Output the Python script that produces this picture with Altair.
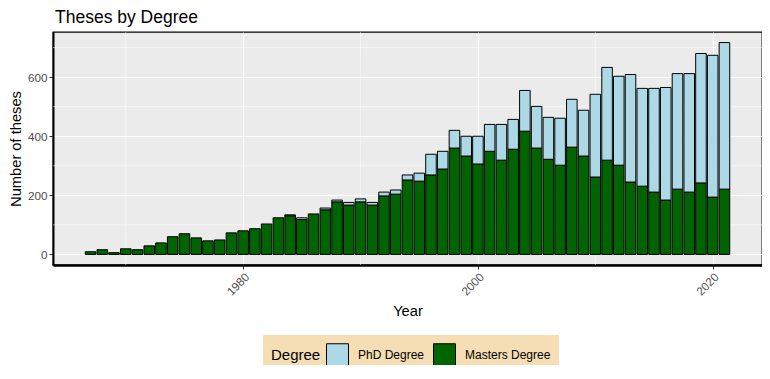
import altair as alt
import pandas as pd

years = list(range(1967, 2022))
masters = [9, 16, 6, 19, 16, 29, 39, 60, 70, 56, 46, 49, 73, 80, 87, 103, 124, 131, 118, 137, 151,
           178, 167, 178, 167, 198, 204, 252, 248, 269, 289, 360, 333, 306, 349, 319, 356, 417, 360,
           322, 302, 363, 333, 262, 319, 302, 245, 231, 211, 184, 221, 211, 242, 194, 221]
phd = [0, 0, 0, 0, 0, 0, 0, 0, 0, 0, 0, 0, 0, 0, 0, 0, 0, 3, 6, 0, 6,
       6, 9, 10, 9, 13, 14, 17, 27, 70, 60, 60, 67, 94, 91, 121, 101, 138, 141,
       142, 159, 162, 155, 280, 314, 301, 364, 331, 351, 381, 391, 401, 438, 480, 496]
degrees = ["PhD Degree", "Masters Degree"]
colors = ["lightblue", "darkgreen"]
x_major = [1980, 2000, 2020]
x_minor = [1970, 1990, 2010]
y_major = [0, 200, 400, 600]
y_minor = [100, 300, 500, 700]

rows = []
for yr, m, p in zip(years, masters, phd):
    rows.append({"year": yr, "degree": "Masters Degree", "count": m, "order": 0})
    rows.append({"year": yr, "degree": "PhD Degree", "count": p, "order": 1})
df = pd.DataFrame(rows)

FONT = "Liberation Sans"
xscale = alt.Scale(domain=[1963.8, 2024.2], nice=False, zero=False)
yscale = alt.Scale(domain=[-35.8, 752.8], nice=False, zero=False)
xaxis = alt.Axis(values=x_major, format="d", labelAngle=-45, title="Year")
yaxis = alt.Axis(values=y_major, title="Number of theses")

vminor = alt.Chart(pd.DataFrame({"v": x_minor})).mark_rule(color="white", strokeWidth=0.55).encode(
    x=alt.X("v:Q", scale=xscale, axis=xaxis)
)
hminor = alt.Chart(pd.DataFrame({"v": y_minor})).mark_rule(color="white", strokeWidth=0.55).encode(
    y=alt.Y("v:Q", scale=yscale, axis=yaxis)
)

bars = alt.Chart(df).transform_stack(
    stack="count", groupby=["year"], as_=["y0", "y1"], sort=[alt.SortField("order", "ascending")]
).transform_filter("datum.count > 0").transform_calculate(
    xa="datum.year - 0.45", xb="datum.year + 0.45"
).mark_bar(stroke="black", strokeWidth=1).encode(
    x=alt.X("xa:Q", scale=xscale, axis=xaxis),
    x2="xb:Q",
    y=alt.Y("y1:Q", scale=yscale, axis=yaxis),
    y2="y0:Q",
    color=alt.Color("degree:N", scale=alt.Scale(domain=degrees, range=colors),
                    legend=alt.Legend(title="Degree", orient="none", legendX=210, legendY=303,
                                      direction="horizontal", titleOrient="left",
                                      fillColor="#F5DEB3", padding=8,
                                      symbolType="square", symbolSize=484,
                                      symbolStrokeColor="black", symbolStrokeWidth=1,
                                      labelFontSize=12, titleFontSize=15, titleFontWeight="normal",
                                      labelFont=FONT, titleFont=FONT, labelColor="black",
                                      titleColor="black", columnPadding=6, labelOffset=9)),
)

chart = alt.layer(vminor, hminor, bars).properties(
    width=709, height=233,
    title=alt.TitleParams("Theses by Degree", anchor="start", frame="group", fontSize=17.5,
                          font=FONT, fontWeight="normal", color="black", offset=5, dx=2),
    autosize=alt.AutoSizeParams(type="none"),
    padding={"left": 45, "top": 24, "right": 0, "bottom": 100},
).configure_view(fill="#EBEBEB", stroke="black", strokeWidth=1.3).configure_axis(
    labelFont=FONT, titleFont=FONT, labelFontSize=11.7, labelColor="#4D4D4D",
    titleFontSize=14.7, titleFontWeight="normal", titleColor="black",
    gridColor="white", gridWidth=1.1, tickColor="#333333", tickSize=4,
    domainColor="black"
).configure_axisX(domainWidth=2.5, titlePadding=6).configure_axisY(domainWidth=2, titlePadding=4)

chart.save("out.html", embed_options={"renderer": "svg", "actions": False})
